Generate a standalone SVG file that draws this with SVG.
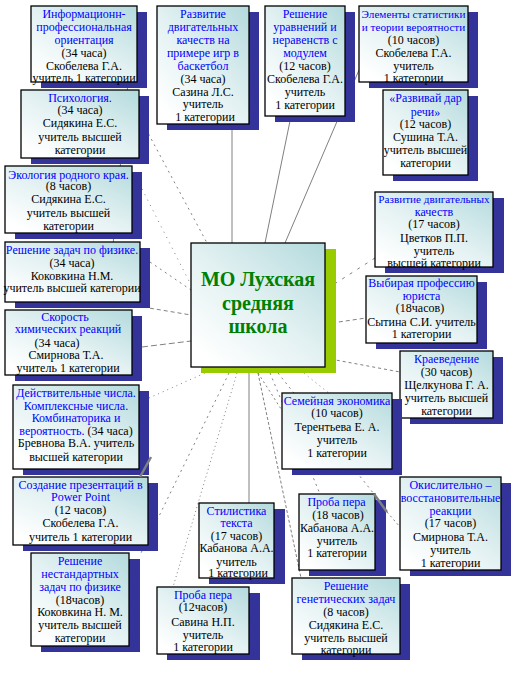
<svg xmlns="http://www.w3.org/2000/svg" width="526" height="673" viewBox="0 0 526 673">
<style>
.sh{fill:#333399}
.box{fill:url(#g);stroke:#000;stroke-width:1.3}
.t{font-family:"Liberation Serif","Times New Roman",serif;font-size:12px;text-anchor:middle;fill:#000}
.s{font-size:11.2px}
.b{fill:#0000ff}
.c{font-family:"Liberation Serif","Times New Roman",serif;font-size:20px;font-weight:bold;text-anchor:middle;fill:#008000}
.ln{stroke:#808080;stroke-width:1;fill:none}
.thk{stroke:#808080;stroke-width:2.5;fill:none}
</style>
<defs>
<linearGradient id="g" x1="1" y1="0" x2="0.15" y2="0.95">
<stop offset="0" stop-color="#b3dadd"/>
<stop offset="0.55" stop-color="#e3f1f2"/>
<stop offset="1" stop-color="#ffffff"/>
</linearGradient>
</defs>
<rect width="526" height="673" fill="#fff"/>
<g id="connectors">
<line class="ln" x1="232" y1="129" x2="232" y2="243"/>
<line class="ln" x1="290" y1="121" x2="265" y2="243"/>
<line class="ln" x1="359" y1="70" x2="285" y2="243"/>
<line class="ln" x1="140" y1="118" x2="207" y2="243" stroke-dasharray="2,4"/>
<line class="ln" x1="128" y1="82" x2="113" y2="245"/>
<line class="ln" x1="142" y1="189" x2="191" y2="285" stroke-dasharray="1,5"/>
<line class="ln" x1="150" y1="262" x2="191" y2="290" stroke-dasharray="2,4"/>
<line class="ln" x1="143" y1="307" x2="191" y2="315" stroke-dasharray="4,3"/>
<line class="ln" x1="142" y1="347" x2="191" y2="341" stroke-dasharray="6,3"/>
<line class="ln" x1="149" y1="398" x2="205" y2="373" stroke-dasharray="1,4"/>
<line class="ln" x1="229" y1="373" x2="141" y2="553" stroke-dasharray="2,4"/>
<line class="ln" x1="237" y1="373" x2="173" y2="587" stroke-dasharray="1,3"/>
<line class="ln" x1="249" y1="373" x2="249" y2="503"/>
<line class="ln" x1="258" y1="373" x2="301" y2="578" stroke-dasharray="3,2"/>
<line class="ln" x1="258" y1="373" x2="283" y2="412" stroke-dasharray="2,3"/>
<line class="ln" x1="270" y1="373" x2="320" y2="494" stroke-dasharray="2,4"/>
<line class="ln" x1="278" y1="373" x2="374" y2="494" stroke-dasharray="2,4"/>
<line class="ln" x1="387" y1="512" x2="400" y2="527" stroke-dasharray="2,3"/>
<line class="ln" x1="300" y1="370" x2="340" y2="402" stroke-dasharray="1,4"/>
<line class="ln" x1="375" y1="258" x2="325" y2="290" stroke-dasharray="3,6"/>
<line class="ln" x1="325" y1="324" x2="366" y2="318" stroke-dasharray="4,3"/>
<line class="ln" x1="325" y1="358" x2="400" y2="372" stroke-dasharray="3,3"/>
</g>

<g id="n-info">
<rect class="sh" x="41" y="12" width="106" height="76"/>
<rect class="box" x="31" y="6" width="106" height="76"/>
<text class="t"><tspan class="b" x="84" y="18">Информационн-</tspan><tspan class="b" x="84" y="31">профессиональная</tspan><tspan class="b" x="84" y="44">ориентация</tspan><tspan x="84" y="57">(34 часа)</tspan><tspan x="84" y="70">Скобелева Г.А.</tspan><tspan x="84" y="82">учитель 1 категории</tspan></text>
</g>

<g id="n-basket">
<rect class="sh" x="167" y="12" width="92" height="118"/>
<rect class="box" x="157" y="6" width="92" height="118"/>
<text class="t"><tspan class="b" x="203" y="18">Развитие</tspan><tspan class="b" x="203" y="31">двигательных</tspan><tspan class="b" x="203" y="44">качеств на</tspan><tspan class="b" x="203" y="57">примере игр в</tspan><tspan class="b" x="203" y="70">баскетбол</tspan><tspan x="203" y="83">(34 часа)</tspan><tspan x="203" y="96">Сазина Л.С.</tspan><tspan x="203" y="108">учитель</tspan><tspan x="205" y="121">1 категории</tspan></text>
</g>

<g id="n-psych">
<rect class="sh" x="31" y="96" width="118" height="68"/>
<rect class="box" x="21" y="90" width="118" height="68"/>
<text class="t"><tspan class="b" x="80" y="102">Психология.</tspan><tspan x="80" y="114">(34 часа)</tspan><tspan x="80" y="127">Сидякина Е.С.</tspan><tspan x="80" y="141">учитель высшей</tspan><tspan x="80" y="154">категории</tspan></text>
</g>

<g id="n-uravn">
<rect class="sh" x="275" y="12" width="80" height="110"/>
<rect class="box" x="265" y="6" width="80" height="110"/>
<text class="t"><tspan class="b" x="305" y="18">Решение</tspan><tspan class="b" x="305" y="31">уравнений и</tspan><tspan class="b" x="305" y="44">неравенств с</tspan><tspan class="b" x="305" y="57">модулем</tspan><tspan x="305" y="70">(12 часов)</tspan><tspan x="305" y="83">Скобелева Г.А.</tspan><tspan x="305" y="96">учитель</tspan><tspan x="305" y="109">1 категории</tspan></text>
</g>

<g id="n-stat">
<rect class="sh" x="369" y="12" width="109" height="76"/>
<rect class="box" x="359" y="6" width="109" height="76"/>
<text class="t"><tspan class="b s" x="413.5" y="18">Элементы статистики</tspan><tspan class="b s" x="413.5" y="31">и теории вероятности</tspan><tspan x="413.5" y="44">(10 часов)</tspan><tspan x="413.5" y="57">Скобелева Г.А.</tspan><tspan x="413.5" y="70">учитель</tspan><tspan x="413.5" y="82">1 категории</tspan></text>
</g>

<g id="n-rech">
<rect class="sh" x="393" y="96" width="85" height="85"/>
<rect class="box" x="383" y="90" width="85" height="85"/>
<text class="t"><tspan class="b" x="425.5" y="102">«Развивай дар</tspan><tspan class="b" x="425.5" y="116">речи»</tspan><tspan x="425.5" y="128">(12 часов)</tspan><tspan x="425.5" y="141">Сушина Т.А.</tspan><tspan x="425.5" y="154">учитель высшей</tspan><tspan x="425.5" y="167">категории</tspan></text>
</g>

<g id="n-ecol">
<rect class="sh" x="15" y="172" width="127" height="67"/>
<rect class="box" x="5" y="166" width="127" height="67"/>
<text class="t"><tspan class="b" x="68.5" y="179">Экология родного края.</tspan><tspan x="68.5" y="190">(8 часов)</tspan><tspan x="68.5" y="203">Сидякина Е.С.</tspan><tspan x="68.5" y="217">учитель высшей</tspan><tspan x="68.5" y="230">категории</tspan></text>
</g>

<g id="n-phys">
<rect class="sh" x="15" y="248" width="135" height="60"/>
<rect class="box" x="5" y="242" width="135" height="60"/>
<text class="t"><tspan class="b" x="72" y="254">Решение задач по физике.</tspan><tspan x="72" y="267">(34 часа)</tspan><tspan x="72" y="280">Коковкина Н.М.</tspan><tspan x="72" y="292">учитель высшей категории</tspan></text>
</g>

<g id="n-chem">
<rect class="sh" x="15" y="316" width="127" height="65"/>
<rect class="box" x="5" y="310" width="127" height="65"/>
<text class="t"><tspan class="b" x="65" y="321">Скорость</tspan><tspan class="b" x="68" y="333">химических реакций</tspan><tspan x="57" y="347">(34 часа)</tspan><tspan x="66" y="359">Смирнова Т.А.</tspan><tspan x="68" y="372">учитель 1 категории</tspan></text>
</g>

<g id="n-center">
<rect x="201" y="249" width="135" height="124" fill="#99cc00"/>
<rect class="box" x="191" y="243" width="134" height="124"/>
<text class="c"><tspan x="258" y="286">МО Лухская</tspan><tspan x="258" y="310">средняя</tspan><tspan x="258" y="333">школа</tspan></text>
</g>

<g id="n-dvig17">
<rect class="sh" x="385" y="198" width="119" height="75"/>
<rect class="box" x="375" y="192" width="118" height="75"/>
<text class="t"><tspan class="b s" x="434" y="203">Развитие двигательных</tspan><tspan class="b" x="434" y="216">качеств</tspan><tspan x="434" y="228">(17 часов)</tspan><tspan x="434" y="242">Цветков П.П.</tspan><tspan x="434" y="255">учитель</tspan><tspan x="434" y="267">высшей категории</tspan></text>
</g>

<g id="n-jurist">
<rect class="sh" x="376" y="282" width="111" height="67"/>
<rect class="box" x="366" y="276" width="111" height="67"/>
<text class="t"><tspan class="b" x="421.5" y="287">Выбирая профессию</tspan><tspan class="b" x="421.5" y="300">юриста</tspan><tspan x="420" y="312">(18часов)</tspan><tspan x="421.5" y="326">Сытина С.И. учитель</tspan><tspan x="421.5" y="338">1 категории</tspan></text>
</g>

<g id="n-kraev">
<rect class="sh" x="410" y="357" width="93" height="67"/>
<rect class="box" x="400" y="351" width="93" height="67"/>
<text class="t"><tspan class="b" x="446.5" y="363">Краеведение</tspan><tspan x="446.5" y="376">(30 часов)</tspan><tspan x="446.5" y="389">Щелкунова Г. А.</tspan><tspan x="446.5" y="402">учитель высшей</tspan><tspan x="446.5" y="415">категории</tspan></text>
</g>

<g id="n-semya">
<rect class="sh" x="292" y="399" width="110" height="76"/>
<rect class="box" x="282" y="393" width="110" height="76"/>
<text class="t"><tspan class="b" x="337" y="405">Семейная экономика</tspan><tspan x="337" y="417">(10 часов)</tspan><tspan x="337" y="431">Терентьева Е. А.</tspan><tspan x="337" y="444">учитель</tspan><tspan x="337" y="457">1 категории</tspan></text>
</g>

<g id="n-okisl">
<rect class="sh" x="410" y="483" width="101" height="93"/>
<rect class="box" x="400" y="477" width="101" height="93"/>
<text class="t"><tspan class="b" x="450.5" y="489">Окислительно –</tspan><tspan class="b" x="450.5" y="502">восстановительные</tspan><tspan class="b" x="450.5" y="515">реакции</tspan><tspan x="450.5" y="527">(17 часов)</tspan><tspan x="450.5" y="541">Смирнова Т.А.</tspan><tspan x="450.5" y="554">учитель</tspan><tspan x="450.5" y="567">1 категории</tspan></text>
</g>

<g id="n-proba18">
<rect class="sh" x="309" y="500" width="77" height="76"/>
<rect class="box" x="299" y="494" width="76" height="76"/>
<text class="t"><tspan class="b" x="336.5" y="506">Проба пера</tspan><tspan x="338" y="519">(18 часов)</tspan><tspan x="337" y="532">Кабанова  А.А.</tspan><tspan x="337" y="545">учитель</tspan><tspan x="337" y="557">1 категории</tspan></text>
</g>

<g id="n-genet">
<rect class="sh" x="302" y="584" width="108" height="76"/>
<rect class="box" x="292" y="578" width="108" height="76"/>
<text class="t"><tspan class="b" x="346" y="590">Решение</tspan><tspan class="b" x="346" y="603">генетических задач</tspan><tspan x="346" y="616">(8 часов)</tspan><tspan x="346" y="629">Сидякина Е.С.</tspan><tspan x="346" y="642">учитель высшей</tspan><tspan x="346" y="654">категории</tspan></text>
</g>

<g id="n-stil">
<rect class="sh" x="209" y="509" width="76" height="75"/>
<rect class="box" x="199" y="503" width="75" height="75"/>
<text class="t"><tspan class="b" x="236.5" y="515">Стилистика</tspan><tspan class="b" x="236.5" y="527">текста</tspan><tspan x="236.5" y="540">(17 часов)</tspan><tspan x="236.5" y="552">Кабанова А.А.</tspan><tspan x="236.5" y="566">учитель</tspan><tspan x="238" y="577">1 категории</tspan></text>
</g>

<g id="n-proba12">
<rect class="sh" x="167" y="593" width="93" height="67"/>
<rect class="box" x="157" y="587" width="92" height="67"/>
<text class="t"><tspan class="b" x="203" y="599">Проба пера</tspan><tspan x="203" y="611">(12часов)</tspan><tspan x="203" y="626">Савина Н.П.</tspan><tspan x="203" y="639">учитель</tspan><tspan x="203" y="651">1 категории</tspan></text>
</g>

<g id="n-nestand">
<rect class="sh" x="41" y="559" width="99" height="93"/>
<rect class="box" x="31" y="553" width="98" height="93"/>
<text class="t"><tspan class="b" x="80" y="565">Решение</tspan><tspan class="b" x="80" y="578">нестандартных</tspan><tspan class="b" x="80" y="591">задач по физике</tspan><tspan x="80" y="604">(18часов)</tspan><tspan x="80" y="616">Коковкина Н. М.</tspan><tspan x="80" y="629">учитель  высшей</tspan><tspan x="80" y="642">категории</tspan></text>
</g>

<g id="n-pres">
<rect class="sh" x="23" y="483" width="135" height="68"/>
<rect class="box" x="13" y="477" width="135" height="68"/>
<text class="t"><tspan class="b" x="80.5" y="489">Создание презентаций в</tspan><tspan class="b" x="80.5" y="501">Power Point</tspan><tspan x="80.5" y="514">(12 часов)</tspan><tspan x="80.5" y="527">Скобелева Г.А.</tspan><tspan x="80.5" y="541">учитель 1 категории</tspan></text>
</g>

<g id="n-deistv">
<rect class="sh" x="23" y="391" width="126" height="84"/>
<rect class="box" x="13" y="385" width="126" height="84"/>
<text class="t"><tspan class="b" x="76" y="397">Действительные числа.</tspan><tspan class="b" x="76" y="410">Комплексные числа.</tspan><tspan class="b" x="76" y="422">Комбинаторика и</tspan><tspan x="76" y="435"><tspan class="b">вероятность.</tspan> (34 часа)</tspan><tspan x="76" y="447">Бревнова В.А. учитель</tspan><tspan x="76" y="461">высшей категории</tspan></text>
</g>

<g id="connectors-front">
<line class="thk" x1="140" y1="477" x2="151" y2="457"/>
<line class="thk" x1="374" y1="494" x2="387" y2="512"/>
</g>
</svg>
